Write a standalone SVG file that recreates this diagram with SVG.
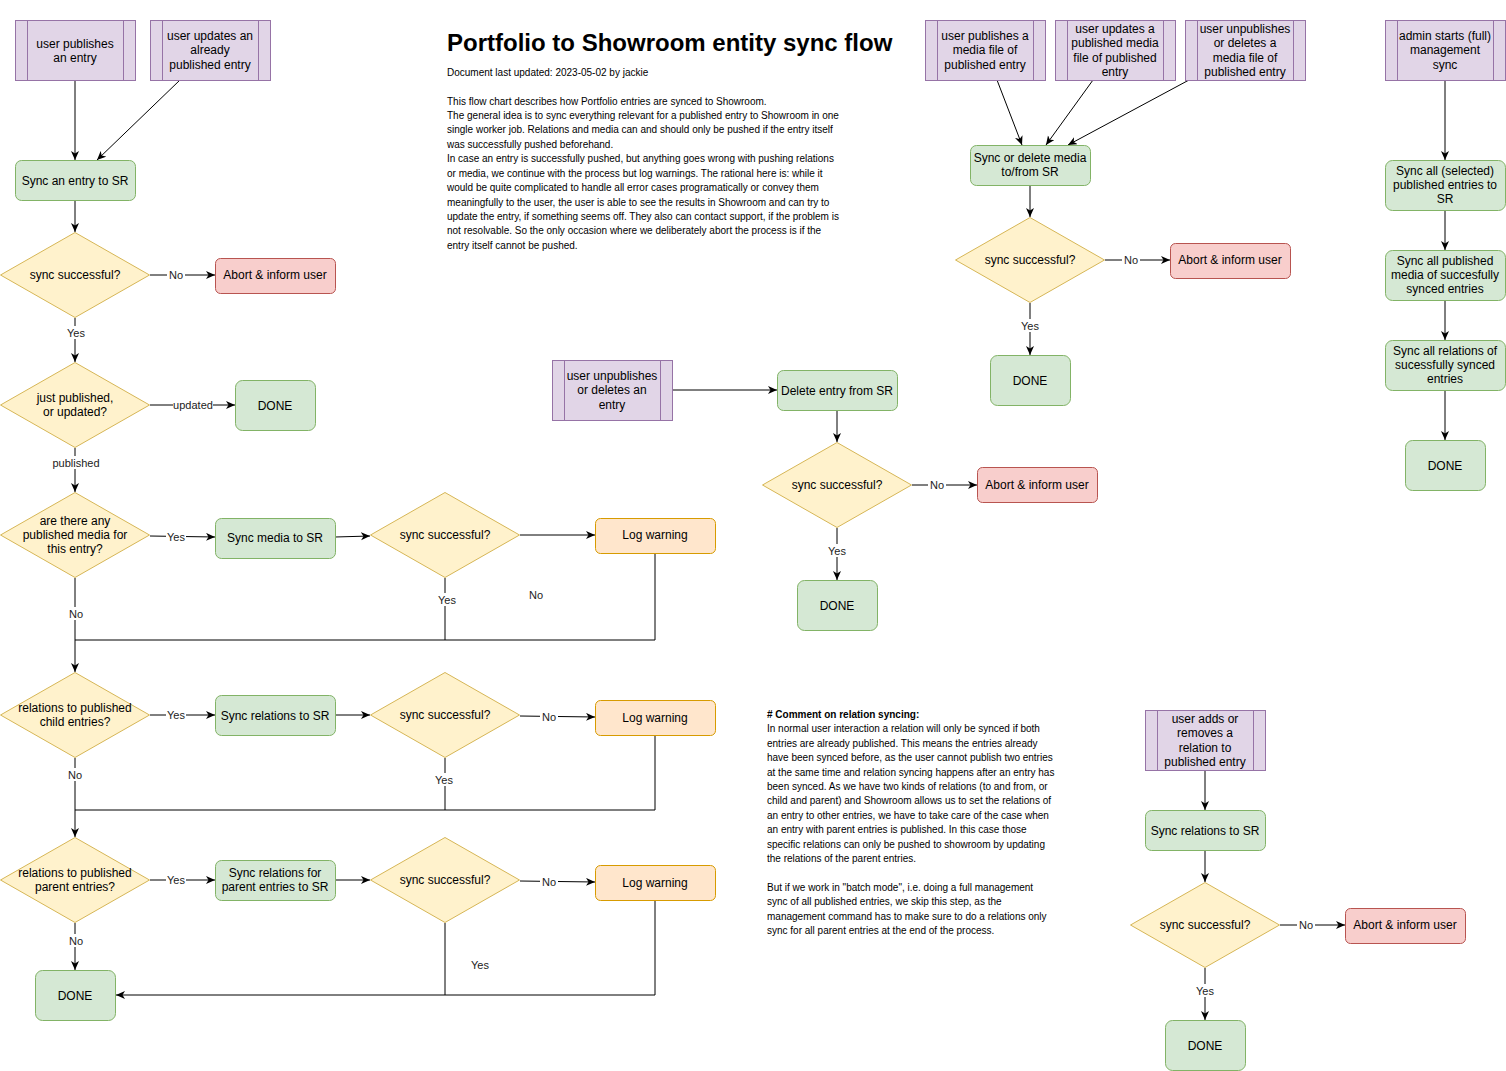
<svg xmlns="http://www.w3.org/2000/svg" width="1506" height="1071" viewBox="0 0 1506 1071">
<defs>
<marker id="arr" markerUnits="userSpaceOnUse" markerWidth="10" markerHeight="9" refX="9" refY="4" orient="auto">
<path d="M0,0 L9,4 L0,8 L2.5,4 Z" fill="#000"/>
</marker>
</defs>
<style>
.p{fill:#e1d5e7;stroke:#9673a6;stroke-width:1}
.pl{stroke:#9673a6;stroke-width:1}
.g{fill:#d5e8d4;stroke:#82b366;stroke-width:1}
.y{fill:#fff2cc;stroke:#d6b656;stroke-width:1}
.r{fill:#f8cecc;stroke:#b85450;stroke-width:1}
.o{fill:#ffe6cc;stroke:#d79b00;stroke-width:1}
text{font-family:"Liberation Sans",Arial,Helvetica,sans-serif;fill:#000}
.t{font-size:12px;text-anchor:middle}
.l{font-size:11px;text-anchor:middle;fill:#222}
.lb{fill:#fff;stroke:none}
.e{fill:none;stroke:#000;stroke-width:1}
.ea{fill:none;stroke:#000;stroke-width:1;marker-end:url(#arr)}
.d{font-size:10px}
</style>
<rect x="0" y="0" width="1506" height="1071" fill="#fff"/>

<!-- Text blocks -->
<g id="title">
<text x="447" y="51" style="font-size:24px;font-weight:bold">Portfolio to Showroom entity sync flow</text>
<text class="d" x="447" y="75.5">Document last updated: 2023-05-02 by jackie</text>
<text class="d" x="447" y="104.5">This flow chart describes how Portfolio entries are synced to Showroom.</text>
<text class="d" x="447" y="119">The general idea is to sync everything relevant for a published entry to Showroom in one</text>
<text class="d" x="447" y="133.4">single worker job. Relations and media can and should only be pushed if the entry itself</text>
<text class="d" x="447" y="147.8">was successfully pushed beforehand.</text>
<text class="d" x="447" y="162.2">In case an entry is successfully pushed, but anything goes wrong with pushing relations</text>
<text class="d" x="447" y="176.7">or media, we continue with the process but log warnings. The rational here is: while it</text>
<text class="d" x="447" y="191.1">would be quite complicated to handle all error cases programatically or convey them</text>
<text class="d" x="447" y="205.5">meaningfully to the user, the user is able to see the results in Showroom and can try to</text>
<text class="d" x="447" y="220">update the entry, if something seems off. They also can contact support, if the problem is</text>
<text class="d" x="447" y="234.4">not resolvable. So the only occasion where we deliberately abort the process is if the</text>
<text class="d" x="447" y="248.8">entry itself cannot be pushed.</text>
</g>
<g id="comment">
<text class="d" x="767" y="718" style="font-weight:bold"># Comment on relation syncing:</text>
<text class="d" x="767" y="732.4">In normal user interaction a relation will only be synced if both</text>
<text class="d" x="767" y="746.8">entries are already published. This means the entries already</text>
<text class="d" x="767" y="761.2">have been synced before, as the user cannot publish two entries</text>
<text class="d" x="767" y="775.6">at the same time and relation syncing happens after an entry has</text>
<text class="d" x="767" y="790">been synced. As we have two kinds of relations (to and from, or</text>
<text class="d" x="767" y="804.4">child and parent) and Showroom allows us to set the relations of</text>
<text class="d" x="767" y="818.8">an entry to other entries, we have to take care of the case when</text>
<text class="d" x="767" y="833.2">an entry with parent entries is published. In this case those</text>
<text class="d" x="767" y="847.6">specific relations can only be pushed to showroom by updating</text>
<text class="d" x="767" y="862">the relations of the parent entries.</text>
<text class="d" x="767" y="890.8">But if we work in "batch mode", i.e. doing a full management</text>
<text class="d" x="767" y="905.2">sync of all published entries, we skip this step, as the</text>
<text class="d" x="767" y="919.6">management command has to make sure to do a relations only</text>
<text class="d" x="767" y="934">sync for all parent entries at the end of the process.</text>
</g>

<!-- Connectors -->
<g id="connectors">
<path class="ea" d="M75,80 V160"/>
<path class="ea" d="M180,80 L97,160"/>
<path class="ea" d="M75,200 V232"/>
<path class="ea" d="M150,275 H215"/>
<path class="ea" d="M75,318 V362"/>
<path class="ea" d="M150,405 H235"/>
<path class="ea" d="M75,448 V492"/>
<path class="ea" d="M150,536 L215,537"/>
<path class="ea" d="M335,537 L370,536"/>
<path class="ea" d="M520,535 H595"/>
<path class="e" d="M655,553 V640 H75"/>
<path class="e" d="M445,578 V640"/>
<path class="ea" d="M75,578 V672"/>
<path class="ea" d="M150,715 H215"/>
<path class="ea" d="M335,715 H370"/>
<path class="ea" d="M520,716 L595,717"/>
<path class="e" d="M655,735 V810 H75"/>
<path class="e" d="M445,758 V810"/>
<path class="ea" d="M75,758 V837"/>
<path class="ea" d="M150,880 H215"/>
<path class="ea" d="M335,880 H370"/>
<path class="ea" d="M520,881 L595,882"/>
<path class="ea" d="M655,900 V995 H116"/>
<path class="e" d="M445,923 V995"/>
<path class="ea" d="M75,923 V970"/>
<path class="ea" d="M672,390 H777"/>
<path class="ea" d="M837,410 V442"/>
<path class="ea" d="M912,485 H977"/>
<path class="ea" d="M837,528 V580"/>
<path class="ea" d="M997,80 L1022,145"/>
<path class="ea" d="M1093,80 L1046,145"/>
<path class="ea" d="M1189,80 L1068,145"/>
<path class="ea" d="M1030,185 V217"/>
<path class="ea" d="M1105,260 H1170"/>
<path class="ea" d="M1030,303 V355"/>
<path class="ea" d="M1445,80 V160"/>
<path class="ea" d="M1445,210 V250"/>
<path class="ea" d="M1445,300 V340"/>
<path class="ea" d="M1445,390 V440"/>
<path class="ea" d="M1205,770 V810"/>
<path class="ea" d="M1205,850 V882"/>
<path class="ea" d="M1280,925 H1345"/>
<path class="ea" d="M1205,968 V1020"/>

<!-- edge labels -->
<rect class="lb" x="167" y="268" width="18" height="13"/><text class="l" x="176" y="279">No</text>
<rect class="lb" x="66" y="326" width="20" height="13"/><text class="l" x="76" y="337">Yes</text>
<rect class="lb" x="173" y="398" width="40" height="13"/><text class="l" x="193" y="409">updated</text>
<rect class="lb" x="52" y="456" width="48" height="13"/><text class="l" x="76" y="467">published</text>
<rect class="lb" x="166" y="530" width="20" height="13"/><text class="l" x="176" y="541">Yes</text>
<rect class="lb" x="437" y="593" width="20" height="13"/><text class="l" x="447" y="604">Yes</text>
<text class="l" x="536" y="599">No</text>
<rect class="lb" x="67" y="607" width="18" height="13"/><text class="l" x="76" y="618">No</text>
<rect class="lb" x="166" y="708" width="20" height="13"/><text class="l" x="176" y="719">Yes</text>
<rect class="lb" x="540" y="710" width="18" height="13"/><text class="l" x="549" y="721">No</text>
<rect class="lb" x="434" y="773" width="20" height="13"/><text class="l" x="444" y="784">Yes</text>
<rect class="lb" x="66" y="768" width="18" height="13"/><text class="l" x="75" y="779">No</text>
<rect class="lb" x="166" y="873" width="20" height="13"/><text class="l" x="176" y="884">Yes</text>
<rect class="lb" x="540" y="875" width="18" height="13"/><text class="l" x="549" y="886">No</text>
<rect class="lb" x="67" y="934" width="18" height="13"/><text class="l" x="76" y="945">No</text>
<text class="l" x="480" y="969">Yes</text>
<rect class="lb" x="928" y="478" width="18" height="13"/><text class="l" x="937" y="489">No</text>
<rect class="lb" x="827" y="544" width="20" height="13"/><text class="l" x="837" y="555">Yes</text>
<rect class="lb" x="1122" y="253" width="18" height="13"/><text class="l" x="1131" y="264">No</text>
<rect class="lb" x="1020" y="319" width="20" height="13"/><text class="l" x="1030" y="330">Yes</text>
<rect class="lb" x="1297" y="918" width="18" height="13"/><text class="l" x="1306" y="929">No</text>
<rect class="lb" x="1195" y="984" width="20" height="13"/><text class="l" x="1205" y="995">Yes</text>
</g>

<!-- Left flow nodes -->
<g id="n-user-publishes"><rect class="p" x="15.5" y="20.5" width="120" height="60"/><path class="pl" d="M27.5,20.5 V80.5 M123.5,20.5 V80.5"/>
<text class="t" x="75" y="47.5">user publishes</text><text class="t" x="75" y="62">an entry</text></g>
<g id="n-user-updates"><rect class="p" x="150.5" y="20.5" width="120" height="60"/><path class="pl" d="M162.5,20.5 V80.5 M258.5,20.5 V80.5"/>
<text class="t" x="210" y="40">user updates an</text><text class="t" x="210" y="54.4">already</text><text class="t" x="210" y="68.8">published entry</text></g>
<g id="n-sync-entry"><rect class="g" x="15.5" y="160.5" width="120" height="40" rx="6"/><text class="t" x="75" y="184.5">Sync an entry to SR</text></g>
<g id="n-dec1"><polygon class="y" points="0.5,275 75,232.5 149.5,275 75,317.5"/><text class="t" x="75" y="279">sync successful?</text></g>
<g id="n-abort1"><rect class="r" x="215.5" y="258.5" width="120" height="35" rx="5"/><text class="t" x="275" y="279">Abort &amp; inform user</text></g>
<g id="n-dec2"><polygon class="y" points="0.5,405 75,362.5 149.5,405 75,447.5"/><text class="t" x="75" y="402">just published,</text><text class="t" x="75" y="416.4">or updated?</text></g>
<g id="n-done1"><rect class="g" x="235.5" y="380.5" width="80" height="50" rx="7"/><text class="t" x="275" y="409.5">DONE</text></g>
<g id="n-dec3"><polygon class="y" points="0.5,535 75,492.5 149.5,535 75,577.5"/><text class="t" x="75" y="524.6">are there any</text><text class="t" x="75" y="539">published media for</text><text class="t" x="75" y="553.4">this entry?</text></g>
<g id="n-sync-media"><rect class="g" x="215.5" y="518.5" width="120" height="40" rx="6"/><text class="t" x="275" y="542">Sync media to SR</text></g>
<g id="n-dec4"><polygon class="y" points="370.5,535 445,492.5 519.5,535 445,577.5"/><text class="t" x="445" y="539">sync successful?</text></g>
<g id="n-log1"><rect class="o" x="595.5" y="518.5" width="120" height="35" rx="5"/><text class="t" x="655" y="539">Log warning</text></g>
<g id="n-dec5"><polygon class="y" points="0.5,715 75,672.5 149.5,715 75,757.5"/><text class="t" x="75" y="712">relations to published</text><text class="t" x="75" y="726.4">child entries?</text></g>
<g id="n-sync-rel1"><rect class="g" x="215.5" y="695.5" width="120" height="40" rx="6"/><text class="t" x="275" y="719.5">Sync relations to SR</text></g>
<g id="n-dec6"><polygon class="y" points="370.5,715 445,672.5 519.5,715 445,757.5"/><text class="t" x="445" y="719">sync successful?</text></g>
<g id="n-log2"><rect class="o" x="595.5" y="700.5" width="120" height="35" rx="5"/><text class="t" x="655" y="722">Log warning</text></g>
<g id="n-dec7"><polygon class="y" points="0.5,880 75,837.5 149.5,880 75,922.5"/><text class="t" x="75" y="877">relations to published</text><text class="t" x="75" y="891.4">parent entries?</text></g>
<g id="n-sync-rel2"><rect class="g" x="215.5" y="860.5" width="120" height="40" rx="6"/><text class="t" x="275" y="877">Sync relations for</text><text class="t" x="275" y="891.4">parent entries to SR</text></g>
<g id="n-dec8"><polygon class="y" points="370.5,880 445,837.5 519.5,880 445,922.5"/><text class="t" x="445" y="884">sync successful?</text></g>
<g id="n-log3"><rect class="o" x="595.5" y="865.5" width="120" height="35" rx="5"/><text class="t" x="655" y="887">Log warning</text></g>
<g id="n-done2"><rect class="g" x="35.5" y="970.5" width="80" height="50" rx="7"/><text class="t" x="75" y="999.5">DONE</text></g>

<!-- Middle flow -->
<g id="n-user-unpub"><rect class="p" x="552.5" y="360.5" width="120" height="60"/><path class="pl" d="M564.5,360.5 V420.5 M660.5,360.5 V420.5"/>
<text class="t" x="612" y="380">user unpublishes</text><text class="t" x="612" y="394.4">or deletes an</text><text class="t" x="612" y="408.8">entry</text></g>
<g id="n-delete"><rect class="g" x="777.5" y="370.5" width="120" height="40" rx="6"/><text class="t" x="837" y="394.5">Delete entry from SR</text></g>
<g id="n-dec9"><polygon class="y" points="762.5,485 837,442.5 911.5,485 837,527.5"/><text class="t" x="837" y="489">sync successful?</text></g>
<g id="n-abort2"><rect class="r" x="977.5" y="467.5" width="120" height="35" rx="5"/><text class="t" x="1037" y="489">Abort &amp; inform user</text></g>
<g id="n-done3"><rect class="g" x="797.5" y="580.5" width="80" height="50" rx="7"/><text class="t" x="837" y="609.5">DONE</text></g>

<!-- Media flow -->
<g id="n-media-pub"><rect class="p" x="925.5" y="20.5" width="120" height="60"/><path class="pl" d="M937.5,20.5 V80.5 M1033.5,20.5 V80.5"/>
<text class="t" x="985" y="40">user publishes a</text><text class="t" x="985" y="54.4">media file of</text><text class="t" x="985" y="68.8">published entry</text></g>
<g id="n-media-upd"><rect class="p" x="1055.5" y="20.5" width="120" height="60"/><path class="pl" d="M1067.5,20.5 V80.5 M1163.5,20.5 V80.5"/>
<text class="t" x="1115" y="32.8">user updates a</text><text class="t" x="1115" y="47.2">published media</text><text class="t" x="1115" y="61.6">file of published</text><text class="t" x="1115" y="76">entry</text></g>
<g id="n-media-del"><rect class="p" x="1185.5" y="20.5" width="120" height="60"/><path class="pl" d="M1197.5,20.5 V80.5 M1293.5,20.5 V80.5"/>
<text class="t" x="1245" y="32.8">user unpublishes</text><text class="t" x="1245" y="47.2">or deletes a</text><text class="t" x="1245" y="61.6">media file of</text><text class="t" x="1245" y="76">published entry</text></g>
<g id="n-sync-media2"><rect class="g" x="970.5" y="145.5" width="120" height="40" rx="6"/><text class="t" x="1030" y="162">Sync or delete media</text><text class="t" x="1030" y="176.4">to/from SR</text></g>
<g id="n-dec10"><polygon class="y" points="955.5,260 1030,217.5 1104.5,260 1030,302.5"/><text class="t" x="1030" y="264">sync successful?</text></g>
<g id="n-abort3"><rect class="r" x="1170.5" y="243.5" width="120" height="35" rx="5"/><text class="t" x="1230" y="264">Abort &amp; inform user</text></g>
<g id="n-done4"><rect class="g" x="990.5" y="355.5" width="80" height="50" rx="7"/><text class="t" x="1030" y="384.5">DONE</text></g>

<!-- Admin flow -->
<g id="n-admin"><rect class="p" x="1385.5" y="20.5" width="120" height="60"/><path class="pl" d="M1397.5,20.5 V80.5 M1493.5,20.5 V80.5"/>
<text class="t" x="1445" y="40">admin starts (full)</text><text class="t" x="1445" y="54.4">management</text><text class="t" x="1445" y="68.8">sync</text></g>
<g id="n-sync-all"><rect class="g" x="1385.5" y="160.5" width="120" height="50" rx="7"/><text class="t" x="1445" y="174.6">Sync all (selected)</text><text class="t" x="1445" y="189">published entries to</text><text class="t" x="1445" y="203.4">SR</text></g>
<g id="n-sync-all-media"><rect class="g" x="1385.5" y="250.5" width="120" height="50" rx="7"/><text class="t" x="1445" y="264.6">Sync all published</text><text class="t" x="1445" y="279">media of succesfully</text><text class="t" x="1445" y="293.4">synced entries</text></g>
<g id="n-sync-all-rel"><rect class="g" x="1385.5" y="340.5" width="120" height="50" rx="7"/><text class="t" x="1445" y="354.6">Sync all relations of</text><text class="t" x="1445" y="369">sucessfully synced</text><text class="t" x="1445" y="383.4">entries</text></g>
<g id="n-done5"><rect class="g" x="1405.5" y="440.5" width="80" height="50" rx="7"/><text class="t" x="1445" y="469.5">DONE</text></g>

<!-- Relation flow -->
<g id="n-rel-user"><rect class="p" x="1145.5" y="710.5" width="120" height="60"/><path class="pl" d="M1157.5,710.5 V770.5 M1253.5,710.5 V770.5"/>
<text class="t" x="1205" y="722.8">user adds or</text><text class="t" x="1205" y="737.2">removes a</text><text class="t" x="1205" y="751.6">relation to</text><text class="t" x="1205" y="766">published entry</text></g>
<g id="n-sync-rel3"><rect class="g" x="1145.5" y="810.5" width="120" height="40" rx="6"/><text class="t" x="1205" y="834.5">Sync relations to SR</text></g>
<g id="n-dec11"><polygon class="y" points="1130.5,925 1205,882.5 1279.5,925 1205,967.5"/><text class="t" x="1205" y="929">sync successful?</text></g>
<g id="n-abort4"><rect class="r" x="1345.5" y="908.5" width="120" height="35" rx="5"/><text class="t" x="1405" y="929">Abort &amp; inform user</text></g>
<g id="n-done6"><rect class="g" x="1165.5" y="1020.5" width="80" height="50" rx="7"/><text class="t" x="1205" y="1049.5">DONE</text></g>
</svg>
